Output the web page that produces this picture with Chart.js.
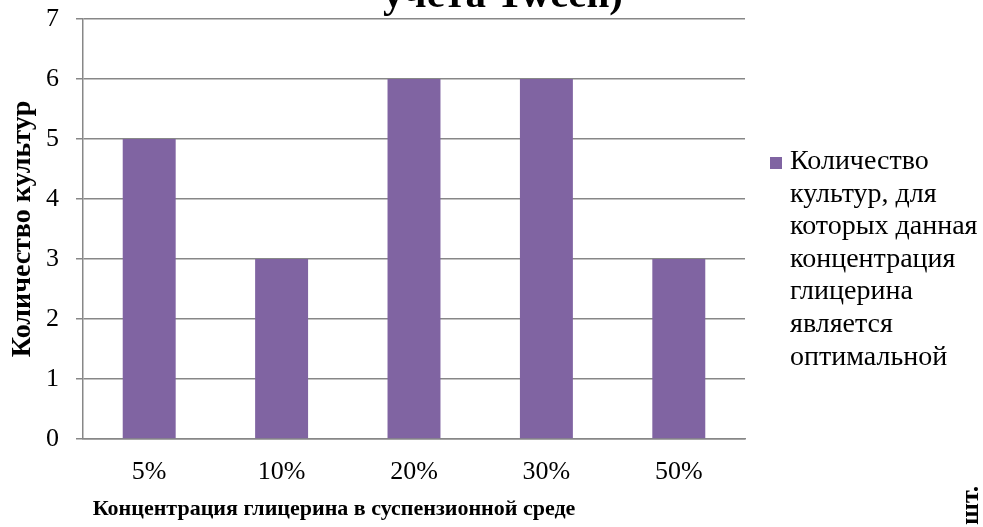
<!DOCTYPE html>
<html lang="ru">
<head>
<meta charset="UTF-8">
<title>Количество культур</title>
<script src="https://cdn.jsdelivr.net/npm/chart.js"></script>
<style>
  html, body { margin: 0; padding: 0; background: #fff; }
  #chart { display: block; }
</style>
</head>
<body>
<canvas id="chart" width="983" height="527"></canvas>
<script>
// glycerol concentration vs number of cultures it suits best
const concentrations = ['5%', '10%', '20%', '30%', '50%'];
const cultureCounts = [5, 3, 6, 6, 3];
const yMin = 0;
const yMax = 7;
const yStep = 1;

const seriesLines = ['Количество', 'культур, для', 'которых данная', 'концентрация', 'глицерина', 'является', 'оптимальной'];
const titleTail = 'учета Tween)';
const xTitle = 'Концентрация глицерина в суспензионной среде';
const yTitle = 'Количество культур';
const unitNote = 'шт.';

const serif = '"Liberation Serif", "Times New Roman", serif';
const barColor = '#8064A2';
const gridColor = '#878787';

// title remnant, x title, unit note and the wrapped legend are painted by hand
const extraText = {
  id: 'extraText',
  afterDraw(chart) {
    const ctx = chart.ctx;
    ctx.save();
    ctx.fillStyle = '#000';

    ctx.font = 'bold 41px ' + serif;
    ctx.textAlign = 'center';
    ctx.textBaseline = 'alphabetic';
    ctx.fillText(titleTail, 503, 7);

    ctx.font = 'bold 22px ' + serif;
    ctx.fillText(xTitle, 334, 515);

    ctx.save();
    ctx.translate(978, 525);
    ctx.rotate(-Math.PI / 2);
    ctx.textAlign = 'left';
    ctx.font = 'bold 26px ' + serif;
    ctx.fillText(unitNote, 0, 0);
    ctx.restore();

    const ds = chart.data.datasets[0];
    ctx.fillStyle = ds.backgroundColor;
    ctx.fillRect(770, 157, 12, 12);
    ctx.fillStyle = '#000';
    ctx.textAlign = 'left';
    ctx.font = '28px ' + serif;
    seriesLines.forEach((line, i) => {
      ctx.fillText(line, 790, 169 + i * 32.6);
    });
    ctx.restore();
  }
};

new Chart(document.getElementById('chart'), {
  type: 'bar',
  data: {
    labels: concentrations,
    datasets: [{
      label: seriesLines.join(' '),
      data: cultureCounts,
      backgroundColor: barColor,
      borderWidth: 0,
      categoryPercentage: 0.8,
      barPercentage: 0.5
    }]
  },
  options: {
    responsive: false,
    animation: false,
    layout: { padding: { top: 19, right: 238, bottom: 0, left: 0 } },
    plugins: {
      legend: { display: false },
      tooltip: { enabled: false }
    },
    scales: {
      x: {
        afterFit(scale) {
          scale.height = 88;
          scale.paddingLeft = 0;
          scale.paddingRight = 0;
        },
        grid: { display: false, drawTicks: false },
        border: { display: true, color: gridColor, width: 1.5 },
        ticks: {
          color: '#000',
          font: { family: serif, size: 26 },
          padding: 18
        }
      },
      y: {
        min: yMin,
        max: yMax,
        afterFit(scale) {
          // fixed box so the plot spans 83..745 x 19..439
          scale.width = 83;
          scale.paddingTop = 0;
          scale.paddingBottom = 0;
        },
        grid: { color: gridColor, lineWidth: 1.5, tickLength: 7 },
        border: { display: true, color: gridColor, width: 1.5 },
        ticks: {
          stepSize: yStep,
          color: '#000',
          font: { family: serif, size: 26 },
          padding: 17
        },
        title: {
          display: true,
          text: yTitle,
          color: '#000',
          font: { family: serif, size: 28, weight: 'bold' },
          padding: { top: 6, bottom: 0 }
        }
      }
    }
  },
  plugins: [extraText]
});
</script>
</body>
</html>
